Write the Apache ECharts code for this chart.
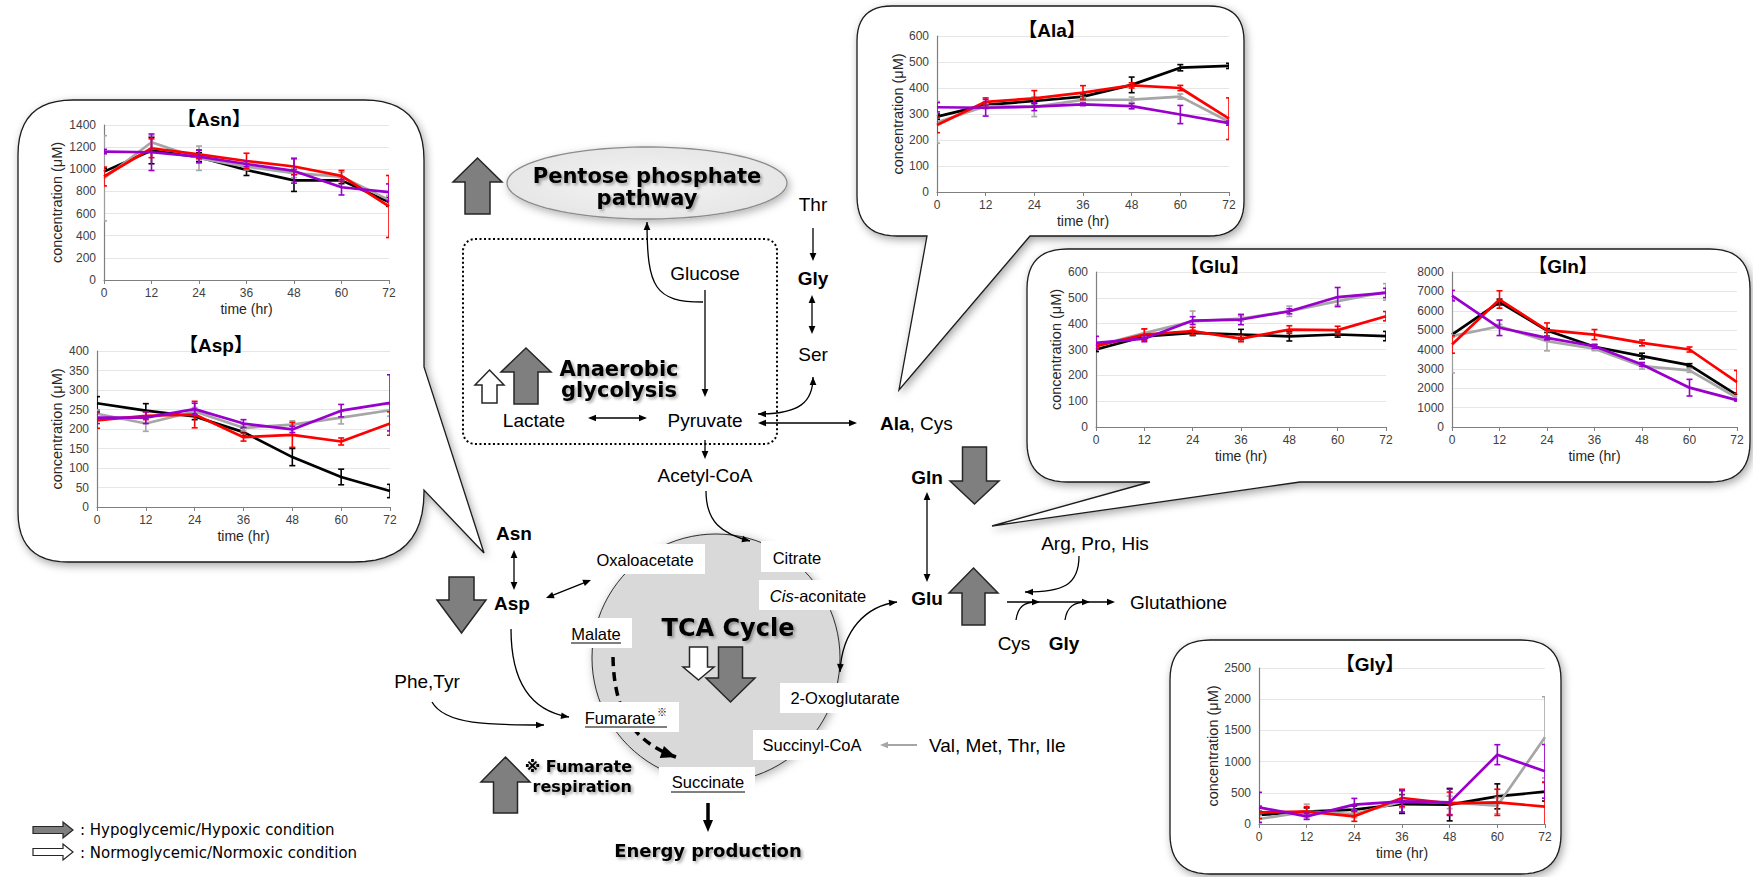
<!DOCTYPE html>
<html><head><meta charset="utf-8">
<script src="https://cdn.jsdelivr.net/npm/echarts@6/dist/echarts.min.js"></script>
<style>html,body{margin:0;padding:0;background:#fff}#c{width:1753px;height:877px}</style>
</head><body><div id="c"></div>
<script>
// ---------- data ----------
const times = ['0','12','24','36','48','60','72'];
const seriesNames = ['Condition 1','Condition 2','Condition 3','Condition 4'];

const asnBlack = [979, 1170, 1110, 994, 900, 900, 705];
const asnBlackErr = [30, 120, 40, 50, 100, 30, 40];
const asnGray = [919, 1244, 1100, 1024, 965, 934, 724];
const asnGrayErr = [385, 60, 110, 30, 40, 40, 40];
const asnRed = [935, 1190, 1135, 1075, 1025, 940, 664];
const asnRedErr = [85, 85, 40, 70, 75, 50, 280];
const asnPurple = [1160, 1154, 1115, 1048, 985, 838, 793];
const asnPurpleErr = [20, 165, 57, 25, 110, 70, 75];

const aspBlack = [266, 247, 232, 192, 128, 77, 41];
const aspBlackErr = [17, 18, 8, 10, 22, 20, 17];
const aspGray = [239, 214, 245, 203, 211, 229, 248];
const aspGrayErr = [10, 20, 10, 8, 10, 16, 15];
const aspRed = [222, 234, 237, 179, 185, 168, 214];
const aspRedErr = [20, 10, 34, 10, 32, 9, 30];
const aspPurple = [229, 229, 251, 214, 199, 247, 267];
const aspPurpleErr = [15, 15, 15, 10, 8, 16, 72];

const alaBlack = [290, 335, 350, 367, 412, 478, 485];
const alaBlackErr = [10, 10, 10, 10, 30, 12, 10];
const alaGray = [268, 330, 328, 354, 355, 367, 270];
const alaGrayErr = [80, 10, 38, 10, 10, 10, 10];
const alaRed = [258, 347, 360, 382, 410, 400, 282];
const alaRedErr = [30, 15, 30, 27, 10, 10, 80];
const alaPurple = [326, 324, 328, 337, 330, 298, 265];
const alaPurpleErr = [18, 32, 15, 5, 10, 35, 8];

const gluBlack = [300, 351, 364, 358, 351, 358, 352];
const gluBlackErr = [8, 10, 10, 20, 18, 10, 18];
const gluGray = [313, 364, 409, 420, 448, 487, 523];
const gluGrayErr = [8, 15, 40, 10, 20, 15, 32];
const gluRed = [313, 358, 371, 342, 377, 375, 429];
const gluRedErr = [10, 22, 15, 12, 15, 15, 18];
const gluPurple = [326, 342, 412, 416, 448, 503, 519];
const gluPurpleErr = [25, 12, 15, 20, 10, 37, 18];

const glnBlack = [4770, 6450, 4980, 4140, 3660, 3190, 1650];
const glnBlackErr = [100, 150, 100, 100, 150, 80, 100];
const glnGray = [4690, 5200, 4430, 4040, 3140, 2920, 1510];
const glnGrayErr = [1900, 100, 500, 100, 150, 100, 100];
const glnRed = [4260, 6580, 5000, 4770, 4340, 4000, 2320];
const glnRedErr = [450, 450, 370, 260, 150, 130, 600];
const glnPurple = [6780, 5120, 4600, 4170, 3230, 2030, 1390];
const glnPurpleErr = [270, 400, 100, 100, 100, 430, 50];

const glyBlack = [144, 198, 230, 320, 310, 443, 518];
const glyBlackErr = [60, 60, 60, 150, 260, 200, 150];
const glyGray = [80, 198, 160, 358, 347, 294, 1389];
const glyGrayErr = [60, 120, 60, 100, 100, 130, 650];
const glyRed = [187, 198, 123, 417, 331, 347, 278];
const glyRedErr = [100, 80, 80, 140, 180, 210, 390];
const glyPurple = [267, 123, 310, 363, 347, 1111, 844];
const glyPurpleErr = [240, 50, 100, 170, 210, 160, 430];

// ---------- layout / style ----------
const colors = ['#000000', '#a6a6a6', '#ff0000', '#9900cc'];
const F = '"Liberation Sans", Arial, sans-serif';
const DV = '"DejaVu Sans", Verdana, "Noto Sans CJK JP", sans-serif';
const CJK = '"Noto Sans CJK JP", sans-serif';

const panels = [
  {title:'【Asn】', tpos:[214,119], grid:{left:104, top:125, width:285, height:155}, max:1400, interval:200, yNameGap:40,
   lines:[[asnBlack,asnBlackErr],[asnGray,asnGrayErr],[asnRed,asnRedErr],[asnPurple,asnPurpleErr]]},
  {title:'【Asp】', tpos:[216,345], grid:{left:97, top:351, width:293, height:156}, max:400, interval:50, yNameGap:33,
   lines:[[aspBlack,aspBlackErr],[aspGray,aspGrayErr],[aspRed,aspRedErr],[aspPurple,aspPurpleErr]]},
  {title:'【Ala】', tpos:[1052,30], grid:{left:937, top:36, width:292, height:156}, max:600, interval:100, yNameGap:32,
   lines:[[alaBlack,alaBlackErr],[alaGray,alaGrayErr],[alaRed,alaRedErr],[alaPurple,alaPurpleErr]]},
  {title:'【Glu】', tpos:[1215,266], grid:{left:1096, top:272, width:290, height:155}, max:600, interval:100, yNameGap:33,
   lines:[[gluBlack,gluBlackErr],[gluGray,gluGrayErr],[gluRed,gluRedErr],[gluPurple,gluPurpleErr]]},
  {title:'【Gln】', tpos:[1563,266], grid:{left:1452, top:272, width:285, height:155}, max:8000, interval:1000, yNameGap:null,
   lines:[[glnBlack,glnBlackErr],[glnGray,glnGrayErr],[glnRed,glnRedErr],[glnPurple,glnPurpleErr]]},
  {title:'【Gly】', tpos:[1370,664], grid:{left:1259, top:668, width:286, height:156}, max:2500, interval:500, yNameGap:39,
   lines:[[glyBlack,glyBlackErr],[glyGray,glyGrayErr],[glyRed,glyRedErr],[glyPurple,glyPurpleErr]]}
];

function errRender(params, api) {
  const x = api.value(0), y = api.value(1), e = api.value(2);
  const t = api.coord([x, y + e]), b = api.coord([x, y - e]);
  const w = 3;
  const st = {stroke: api.visual('color'), lineWidth: 1.6};
  return {type:'group', children:[
    {type:'line', shape:{x1:t[0], y1:t[1], x2:b[0], y2:b[1]}, style:st},
    {type:'line', shape:{x1:t[0]-w, y1:t[1], x2:t[0]+w, y2:t[1]}, style:st},
    {type:'line', shape:{x1:b[0]-w, y1:b[1], x2:b[0]+w, y2:b[1]}, style:st}
  ]};
}

const grids = [], xAxes = [], yAxes = [], series = [], graphics = [];
panels.forEach((p, i) => {
  grids.push(Object.assign({outerBoundsMode:'none', containLabel:false}, p.grid));
  xAxes.push({gridIndex:i, type:'category', data:times, boundaryGap:false,
    name:'time (hr)', nameLocation:'middle', nameGap:22, nameMoveOverlap:false,
    nameTextStyle:{fontSize:14, color:'#262626', fontFamily:F},
    axisLine:{show:true, lineStyle:{color:'#7f7f7f', width:1.2}},
    axisTick:{show:true, length:4, inside:false, lineStyle:{color:'#7f7f7f'}},
    axisLabel:{fontSize:12, color:'#404040', fontFamily:F, margin:7},
    splitLine:{show:false}});
  const ya = {gridIndex:i, type:'value', min:0, max:p.max, interval:p.interval,
    axisLine:{show:true, lineStyle:{color:'#7f7f7f', width:1.2}},
    axisTick:{show:false},
    axisLabel:{fontSize:12, color:'#404040', fontFamily:F, margin:8, formatter:(v) => String(v)},
    splitLine:{show:true, lineStyle:{color:'#e6e6e6', width:1}}};
  if (p.yNameGap !== null) {
    Object.assign(ya, {name:'concentration (μM)', nameLocation:'middle', nameGap:p.yNameGap, nameMoveOverlap:false,
      nameTextStyle:{fontSize:14.5, color:'#262626', fontFamily:F}});
  }
  yAxes.push(ya);
  p.lines.forEach((pair, k) => {
    const vals = pair[0], errs = pair[1];
    series.push({type:'line', name:seriesNames[k], xAxisIndex:i, yAxisIndex:i, data:vals,
      showSymbol:false, symbol:'none', z:3+k, lineStyle:{color:colors[k], width:2.7}, itemStyle:{color:colors[k]}, silent:true});
    series.push({type:'custom', name:seriesNames[k]+' SD', xAxisIndex:i, yAxisIndex:i, clip:true,
      data:vals.map((v, j) => [j, v, errs[j]]), encode:{x:0, y:1}, renderItem:errRender,
      z:3+k, itemStyle:{color:colors[k]}, silent:true});
  });
  graphics.push({type:'text', x:p.tpos[0], y:p.tpos[1], z:20,
    style:{text:p.title, font:'bold 19px "Liberation Sans", "Noto Sans CJK JP", sans-serif', fill:'#000', align:'center', verticalAlign:'middle'}});
});

// ---------- diagram helpers ----------
function T(x, y, text, o) {
  return {type:'text', x:x, y:y, z:20, style:Object.assign({text:text, fill:'#000',
    font:'19px '+F, align:'center', verticalAlign:'middle'}, o || {})};
}
const SH = {textShadowColor:'rgba(0,0,0,0.35)', textShadowBlur:3, textShadowOffsetX:2, textShadowOffsetY:2};
function head(x, y, ang, size, color) {
  const w = size * 0.42;
  const bx = x - size*Math.cos(ang), by = y - size*Math.sin(ang);
  const nx = -Math.sin(ang), ny = Math.cos(ang);
  return {type:'polygon', z:13, shape:{points:[[x,y],[bx+nx*w,by+ny*w],[bx-nx*w,by-ny*w]]}, style:{fill:color}};
}
function aLine(x1, y1, x2, y2, o) {
  o = o || {};
  const c = o.color || '#000', s = o.size || 8, lw = o.lw || 1.3;
  const ang = Math.atan2(y2-y1, x2-x1);
  const els = [];
  let sx = x1, sy = y1, ex = x2, ey = y2;
  if (o.end) { ex -= Math.cos(ang)*s*0.7; ey -= Math.sin(ang)*s*0.7; els.push(head(x2, y2, ang, s, c)); }
  if (o.start) { sx += Math.cos(ang)*s*0.7; sy += Math.sin(ang)*s*0.7; els.push(head(x1, y1, ang+Math.PI, s, c)); }
  els.unshift({type:'line', z:12, shape:{x1:sx, y1:sy, x2:ex, y2:ey}, style:{stroke:c, lineWidth:lw, lineDash:o.dash || null}});
  return els;
}
function aCurve(p0, p1, p2, p3, o) {
  o = o || {};
  const c = o.color || '#000', s = o.size || 8, lw = o.lw || 1.3;
  const els = [{type:'bezierCurve', z:12, shape:{x1:p0[0], y1:p0[1], x2:p3[0], y2:p3[1], cpx1:p1[0], cpy1:p1[1], cpx2:p2[0], cpy2:p2[1]},
    style:{stroke:c, lineWidth:lw, fill:null, lineDash:o.dash || null}}];
  if (o.end) els.push(head(p3[0], p3[1], Math.atan2(p3[1]-p2[1], p3[0]-p2[0]), s, c));
  if (o.start) els.push(head(p0[0], p0[1], Math.atan2(p0[1]-p1[1], p0[0]-p1[0]), s, c));
  return els;
}
function blockV(cx, top, bottom, headW, shaftW, headLen, up, fill) {
  let pts;
  if (up) pts = [[cx,top],[cx+headW/2,top+headLen],[cx+shaftW/2,top+headLen],[cx+shaftW/2,bottom],[cx-shaftW/2,bottom],[cx-shaftW/2,top+headLen],[cx-headW/2,top+headLen]];
  else pts = [[cx,bottom],[cx+headW/2,bottom-headLen],[cx+shaftW/2,bottom-headLen],[cx+shaftW/2,top],[cx-shaftW/2,top],[cx-shaftW/2,bottom-headLen],[cx-headW/2,bottom-headLen]];
  return {type:'polygon', z:14, shape:{points:pts}, style:{fill:fill, stroke:'#262626', lineWidth:1.5}};
}
function blockH(left, right, cy, headH, shaftH, headLen, fill) {
  const pts = [[right,cy],[right-headLen,cy-headH/2],[right-headLen,cy-shaftH/2],[left,cy-shaftH/2],[left,cy+shaftH/2],[right-headLen,cy+shaftH/2],[right-headLen,cy+headH/2]];
  return {type:'polygon', z:14, shape:{points:pts}, style:{fill:fill, stroke:'#262626', lineWidth:1.2}};
}
function roundPoly(verts) {
  const out = [], n = verts.length;
  for (let i = 0; i < n; i++) {
    const x = verts[i][0], y = verts[i][1], r = verts[i][2];
    if (!r) { out.push([x, y]); continue; }
    const P = verts[(i-1+n)%n], N = verts[(i+1)%n];
    const dp = Math.hypot(P[0]-x, P[1]-y), dn = Math.hypot(N[0]-x, N[1]-y);
    const A = [x+(P[0]-x)*r/dp, y+(P[1]-y)*r/dp], B = [x+(N[0]-x)*r/dn, y+(N[1]-y)*r/dn];
    for (let k = 0; k <= 12; k++) {
      const t = k/12;
      out.push([(1-t)*(1-t)*A[0]+2*(1-t)*t*x+t*t*B[0], (1-t)*(1-t)*A[1]+2*(1-t)*t*y+t*t*B[1]]);
    }
  }
  return out;
}
const bubbleStyle = {fill:'#fff', stroke:'#1a1a1a', lineWidth:1.3, shadowBlur:8, shadowColor:'rgba(0,0,0,0.35)', shadowOffsetX:2, shadowOffsetY:3};
function bubble(verts) { return {type:'polygon', z:-1, shape:{points:roundPoly(verts)}, style:bubbleStyle}; }
function box(x, y, w, h) { return {type:'rect', z:16, shape:{x:x, y:y, width:w, height:h}, style:{fill:'#fff'}}; }
function uline(x1, x2, y) { return {type:'line', z:21, shape:{x1:x1, y1:y, x2:x2, y2:y}, style:{stroke:'#000', lineWidth:1}}; }

// ---------- callout bubbles ----------
graphics.push(bubble([[18,100,55],[424,100,60],[424,367,0],[484,553,0],[424,490,0],[424,562,70],[18,562,50]]));
graphics.push(bubble([[857,6,35],[1244,6,35],[1244,236,35],[1030,236,0],[899,390,0],[927,236,0],[857,236,40]]));
graphics.push(bubble([[1027,249,40],[1750,249,40],[1750,482,40],[1300,482,0],[992,526,0],[1150,482,0],[1027,482,40]]));
graphics.push(bubble([[1170,640,40],[1561,640,40],[1561,874,40],[1170,874,40]]));

// ---------- pentose phosphate / glycolysis ----------
const ell = [];
for (let k = 0; k < 90; k++) { const a = k/90*Math.PI*2; ell.push([647+140*Math.cos(a), 183+36*Math.sin(a)]); }
graphics.push({type:'polygon', z:10, shape:{points:ell},
  style:{fill:{type:'radial', x:0.5, y:0.5, r:0.6, colorStops:[{offset:0, color:'#f4f4f4'},{offset:1, color:'#e4e4e4'}]},
    stroke:'#8c8c8c', lineWidth:1.3, shadowBlur:8, shadowColor:'rgba(0,0,0,0.3)', shadowOffsetX:2, shadowOffsetY:3}});
graphics.push(T(647,176,'Pentose phosphate', Object.assign({font:'bold 21px '+DV}, SH)));
graphics.push(T(647,198,'pathway', Object.assign({font:'bold 21px '+DV}, SH)));
graphics.push(blockV(477.5,158,214,49,25,24,true,'#7f7f7f'));

graphics.push({type:'rect', z:10, shape:{x:463, y:239, width:314, height:205, r:12},
  style:{fill:'none', stroke:'#000', lineWidth:2, lineDash:[2,2.5]}});
graphics.push(T(813,204,'Thr'));
graphics.push(T(813,278,'Gly', {font:'bold 19px '+F}));
graphics.push(T(813,354,'Ser'));
graphics.push(T(705,273,'Glucose'));
graphics.push(blockV(489.5,370,403,29,15,15,true,'#ffffff'));
graphics.push(blockV(526,348,404,50,24,24,true,'#7f7f7f'));
graphics.push(T(619,369,'Anaerobic', Object.assign({font:'bold 21px '+DV}, SH)));
graphics.push(T(619,390,'glycolysis', Object.assign({font:'bold 21px '+DV}, SH)));
graphics.push(T(534,420,'Lactate'));
graphics.push(T(705,420,'Pyruvate'));
graphics.push(T(705,475,'Acetyl-CoA'));
graphics.push(T(880,423,'{b|Ala}, Cys', {align:'left', rich:{b:{font:'bold 19px '+F, fill:'#000'}}}));

graphics.push(...aLine(813,228,813,261,{end:true}));
graphics.push(...aLine(812,295,812,334,{start:true, end:true}));
graphics.push(...aLine(705,290,705,397,{end:true}));
graphics.push(...aCurve([703,302],[655,302],[647,288],[647,222],{end:true}));
graphics.push(...aLine(588,418,647,418,{start:true, end:true}));
graphics.push(...aLine(705,440,705,459,{end:true}));
graphics.push(...aLine(758,423,857,423,{start:true, end:true}));
graphics.push(...aCurve([758,414],[800,414],[813,402],[813,377],{start:true, end:true}));

// ---------- TCA cycle ----------
graphics.push({type:'circle', z:10, shape:{cx:716, cy:658, r:124},
  style:{fill:'#d9d9d9', stroke:'#1a1a1a', lineWidth:0.9, shadowBlur:10, shadowColor:'rgba(0,0,0,0.3)', shadowOffsetX:2, shadowOffsetY:2}});
graphics.push(...aCurve([706,491],[706,522],[722,534],[750,541],{end:true}));
graphics.push(...aCurve([613,657],[614,705],[628,740],[676,757],{end:true, lw:3.5, size:15, dash:[9,6]}));
graphics.push(T(728,628,'TCA Cycle', Object.assign({font:'bold 24px '+DV}, SH)));
graphics.push(blockV(730.5,647,702,49,24,24,false,'#7f7f7f'));
graphics.push(blockV(698.5,647,680,31,18,13,false,'#ffffff'));

graphics.push(box(585,544,120,30));  graphics.push(T(645,560,'Oxaloacetate', {font:'16.5px '+F}));
graphics.push(box(761,541,61,31));   graphics.push(T(797,558,'Citrate', {font:'16.5px '+F}));
graphics.push(box(759,580,113,30));  graphics.push(T(818,596,'{i|Cis}-aconitate', {font:'16.5px '+F, rich:{i:{font:'italic 16.5px '+F, fill:'#000'}}}));
graphics.push(box(567,618,65,30));   graphics.push(T(596,634,'Malate', {font:'16.5px '+F})); graphics.push(uline(571,621,643));
graphics.push(box(577,702,102,30));  graphics.push(T(620,718,'Fumarate', {font:'16.5px '+F})); graphics.push(uline(585,667,727));
graphics.push(T(662,711,'※', {font:'10px '+CJK}));
graphics.push(box(780,683,125,30));  graphics.push(T(845,698,'2-Oxoglutarate', {font:'16.5px '+F}));
graphics.push(box(753,730,119,30));  graphics.push(T(812,745,'Succinyl-CoA', {font:'16.5px '+F}));
graphics.push(box(659,767,96,31));   graphics.push(T(708,782,'Succinate', {font:'16.5px '+F})); graphics.push(uline(671,745,792));

graphics.push(...aLine(708,803,708,832,{end:true, lw:3.5, size:12}));
graphics.push(T(708,850,'Energy production', Object.assign({font:'bold 18px '+DV}, SH)));

// ---------- Asn / Asp side ----------
graphics.push(T(514,533,'Asn', {font:'bold 19px '+F}));
graphics.push(T(512,603,'Asp', {font:'bold 19px '+F}));
graphics.push(...aLine(514,550,514,590,{start:true, end:true}));
graphics.push(...aLine(546,598,591,580,{start:true, end:true}));
graphics.push(blockV(461.5,577,633,49,25,33,false,'#7f7f7f'));
graphics.push(...aCurve([511,629],[511,690],[538,712],[569,717],{end:true}));
graphics.push(T(427,681,'Phe,Tyr'));
graphics.push(...aCurve([432,702],[445,725],[490,725],[544,725],{end:true}));
graphics.push(blockV(505.5,757,813,49,24,25,true,'#7f7f7f'));
graphics.push(T(632,766,'※ Fumarate', Object.assign({font:'bold 16px '+DV, align:'right'}, SH)));
graphics.push(T(632,786,'respiration', Object.assign({font:'bold 16px '+DV, align:'right'}, SH)));

// ---------- Glu / Gln side ----------
graphics.push(T(927,477,'Gln', {font:'bold 19px '+F}));
graphics.push(T(927,598,'Glu', {font:'bold 19px '+F}));
graphics.push(...aLine(927,492,927,582,{start:true, end:true}));
graphics.push(blockV(974.5,447,504,49,24,23,false,'#7f7f7f'));
graphics.push(blockV(973.5,568,625,49,23,25,true,'#7f7f7f'));
graphics.push(...aCurve([840,672],[842,630],[866,606],[897,602],{start:true, end:true}));
graphics.push(...aLine(917,745,880,745,{end:true, color:'#a6a6a6', lw:2}));
graphics.push(T(929,745,'Val, Met, Thr, Ile', {align:'left'}));
graphics.push(T(1095,543,'Arg, Pro, His'));
graphics.push(...aCurve([1079,556],[1079,586],[1062,592],[1025,592],{end:true}));
graphics.push(...aLine(1007,602,1115,602,{end:true}));
graphics.push(head(1040,602,0,8,'#000'));
graphics.push(head(1090,602,0,8,'#000'));
graphics.push(...aCurve([1016,620],[1018,606],[1025,602],[1036,602],{}));
graphics.push(...aCurve([1065,620],[1067,606],[1075,602],[1086,602],{}));
graphics.push(T(1130,602,'Glutathione', {align:'left'}));
graphics.push(T(1014,643,'Cys'));
graphics.push(T(1064,643,'Gly', {font:'bold 19px '+F}));

// ---------- legend ----------
graphics.push(blockH(33,73,830,16,7,10,'#7f7f7f'));
graphics.push(blockH(33,73,852,16,7,10,'#ffffff'));
graphics.push(T(80,830,': Hypoglycemic/Hypoxic condition', {align:'left', font:'15px '+DV}));
graphics.push(T(80,853,': Normoglycemic/Normoxic condition', {align:'left', font:'15px '+DV}));

const chart = echarts.init(document.getElementById('c'), null, {renderer:'svg', width:1753, height:877});
chart.setOption({
  animation:false,
  backgroundColor:'#ffffff',
  grid:grids, xAxis:xAxes, yAxis:yAxes, series:series,
  graphic:{elements:graphics}
});
</script>
</body></html>
